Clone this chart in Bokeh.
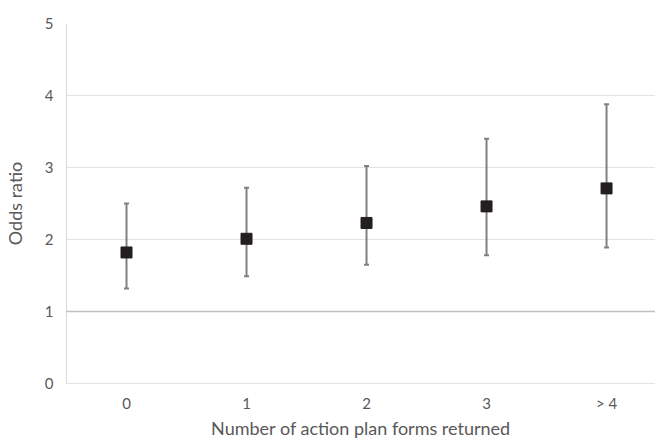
from bokeh.plotting import figure
from bokeh.models import Range1d, ColumnDataSource, Whisker, Span, FixedTicker, TeeHead
from bokeh.embed import file_html
from bokeh.resources import INLINE

categories = ["0", "1", "2", "3", "> 4"]
odds_ratio = [1.82, 2.01, 2.23, 2.46, 2.71]
ci_lower = [1.32, 1.49, 1.65, 1.78, 1.89]
ci_upper = [2.50, 2.72, 3.02, 3.40, 3.88]

xpos = [i + 0.5 for i in range(len(categories))]
src = ColumnDataSource(dict(x=xpos, y=odds_ratio, lo=ci_lower, hi=ci_upper))

FONT = "Lato"
GREY = "#595959"

p = figure(width=655, height=441, output_backend="svg", toolbar_location=None,
           x_range=Range1d(0, 4.908), y_range=Range1d(0, 5),
           min_border_left=66, min_border_right=0, min_border_top=23, min_border_bottom=50)
p.outline_line_color = None
p.background_fill_color = "white"
p.border_fill_color = "white"

p.xgrid.grid_line_color = None
p.ygrid.grid_line_color = "#e4e4e4"
p.ygrid.grid_line_width = 1

p.yaxis.ticker = FixedTicker(ticks=[0, 1, 2, 3, 4, 5])
p.xaxis.ticker = FixedTicker(ticks=xpos)
p.xaxis.major_label_overrides = {x: c for x, c in zip(xpos, categories)}

for ax in (p.xaxis, p.yaxis):
    ax.major_tick_line_color = None
    ax.minor_tick_line_color = None
    ax.major_tick_out = 0
    ax.major_tick_in = 0
    ax.major_label_text_font = FONT
    ax.major_label_text_font_size = "15px"
    ax.major_label_text_color = GREY
    ax.axis_label_text_font = FONT
    ax.axis_label_text_font_size = "18px"
    ax.axis_label_text_color = GREY
    ax.axis_label_text_font_style = "normal"

p.xaxis.axis_line_color = "#e4e4e4"
p.yaxis.axis_line_color = "#d9d9d9"
p.xaxis.major_label_standoff = 10
p.yaxis.major_label_standoff = 13
p.xaxis.axis_label = "Number of action plan forms returned"
p.yaxis.axis_label = "Odds ratio"
p.xaxis.axis_label_standoff = 2
p.yaxis.axis_label_standoff = 16

p.add_layout(Span(location=1, dimension="width", line_color="#bfbfbf", line_width=1.3))

w = Whisker(source=src, base="x", lower="lo", upper="hi", line_color="#808080", line_width=2,
            upper_head=TeeHead(size=5, line_color="#808080", line_width=2),
            lower_head=TeeHead(size=5, line_color="#808080", line_width=2))
p.add_layout(w)

p.scatter("x", "y", source=src, marker="square", size=11, fill_color="#231f20", line_color="#231f20")

open("out.html", "w").write(file_html(p, INLINE))
